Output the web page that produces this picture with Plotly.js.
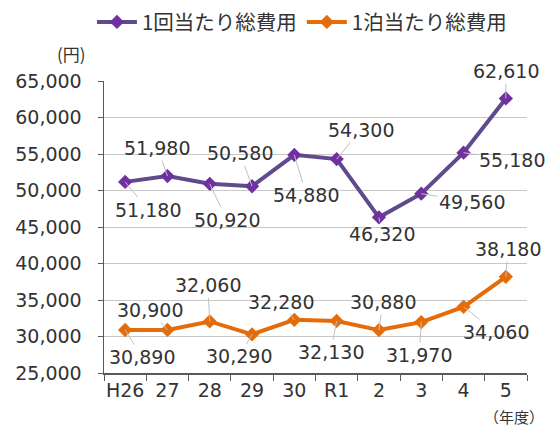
<!DOCTYPE html>
<html><head><meta charset="utf-8">
<script src="https://cdn.plot.ly/plotly-3.0.1.min.js"></script>
<style>html,body{margin:0;padding:0;background:#fff}</style>
</head><body>
<div id="chart" style="width:549px;height:426px"></div>
<script>
const categories = ['H26','27','28','29','30','R1','2','3','4','5'];
const perVisit = [51180, 51980, 50920, 50580, 54880, 54300, 46320, 49560, 55180, 62610];
const perNight = [30890, 30900, 32060, 30290, 32280, 32130, 30880, 31970, 34060, 38180];
const seriesNames = ['1回当たり総費用', '1泊当たり総費用'];
const yTicks = [25000, 30000, 35000, 40000, 45000, 50000, 55000, 60000, 65000];

// label offsets (pixels) relative to each point
const visitOff = [[23,28],[-10,-28],[17,36],[-12,-33],[12,40],[24,-29],[3,17],[51,8],[48,7],[0,-27]];
const nightOff = [[17,27],[-17,-20],[-2,-36],[-13,22],[-13,-18],[-6,31],[4,-28],[-2,33],[32,25],[2,-28]];

const FONT = 'DejaVu Sans, Noto Sans CJK JP, sans-serif';
const TXT = '#333333';
const fmt = v => v.toLocaleString('en-US');

const annotations = [];
function addLabels(vals, offs) {
  vals.forEach((v, i) => {
    annotations.push({
      x: i, y: v, xref: 'x', yref: 'y',
      text: fmt(v), showarrow: true, arrowhead: 0, arrowwidth: 1,
      arrowcolor: '#c0c0c0', ax: offs[i][0], ay: offs[i][1],
      axref: 'pixel', ayref: 'pixel', standoff: 0, startstandoff: 0,
      font: {family: FONT, size: 19, color: TXT}
    });
  });
}
addLabels(perVisit, visitOff);
addLabels(perNight, nightOff);

annotations.push({xref:'paper', yref:'paper', x: -0.076, y: 1.045, xanchor:'center', yanchor:'bottom',
  text:'(円)', showarrow:false, font:{family:'Noto Sans CJK JP, sans-serif', size:17, color:TXT}});
annotations.push({xref:'paper', yref:'paper', x: 0.97, y: -0.188, xanchor:'center', yanchor:'bottom',
  text:'（年度）', showarrow:false, borderpad:0, font:{family:'Noto Sans CJK JP, sans-serif', size:15, color:TXT}});

const traces = [
  {x: categories, y: perVisit, name: seriesNames[0], type:'scatter', mode:'lines+markers',
   line:{color:'#5f4a8b', width:4}, marker:{symbol:'diamond', size:11, color:'#7030a0'}},
  {x: categories, y: perNight, name: seriesNames[1], type:'scatter', mode:'lines+markers',
   line:{color:'#e46c0a', width:4}, marker:{symbol:'diamond', size:11, color:'#e46c0a'}}
];

const layout = {
  width: 549, height: 426,
  margin: {l:104, r:22, t:81, b:53},
  paper_bgcolor:'#fff', plot_bgcolor:'#fff',
  font: {family: FONT, color: TXT},
  showlegend: true,
  legend: {orientation:'h', x:0.55, xanchor:'center', xref:'container', yref:'container', y:0.995, yanchor:'top',
    font:{family:'Noto Sans CJK JP, sans-serif', size:20.5, color:TXT}, itemwidth:40, traceorder:'normal'},
  xaxis: {type:'category', tickson:'boundaries', ticks:'outside', ticklen:6, tickcolor:'#595959',
    showline:true, linecolor:'#595959', linewidth:1.5, showgrid:false, tickangle:0, ticklabelstandoff:0,
    tickfont:{family:FONT, size:19, color:TXT}, range:[-0.5, 9.5], fixedrange:true},
  yaxis: {range:[25000, 65000], tickvals: yTicks, ticktext: yTicks.map(fmt), ticks:'outside', ticklen:5,
    tickcolor:'#595959', showline:true, linecolor:'#595959', linewidth:1.5,
    showgrid:true, gridcolor:'#c8c8c8', gridwidth:1, zeroline:false, ticklabelstandoff:12,
    tickfont:{family:FONT, size:19, color:TXT}},
  annotations: annotations
};
Plotly.newPlot('chart', traces, layout, {staticPlot:true, displayModeBar:false});
</script>
</body></html>
